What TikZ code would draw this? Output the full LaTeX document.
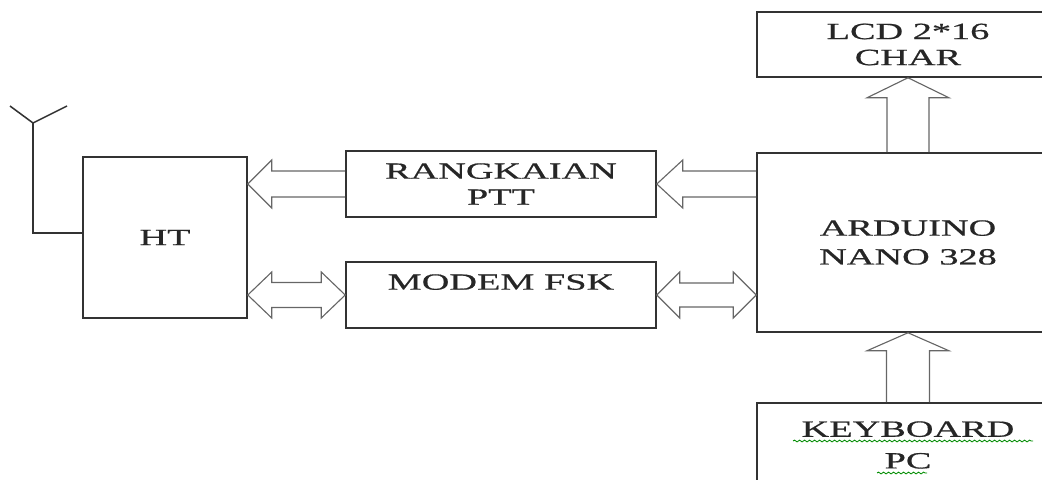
\documentclass[tikz,border=0pt]{standalone}
\usepackage{fontspec}
\newfontfamily\diagfont[FakeStretch=1.65, FakeBold=0.6]{Liberation Serif}
\usetikzlibrary{calc,decorations.pathmorphing}

\newlength\pxu
\setlength\pxu{0.025cm}

\tikzset{
  blok/.style={draw=black!80, line width=1.1pt, rectangle, align=center, inner sep=0pt,
    font=\diagfont\fontsize{16.5}{18.5}\selectfont, text=black!85},
  panah/.style={draw=black!60, line width=0.8pt, line join=miter},
  salah/.style={draw=green!55!black, line width=0.6pt,
    decorate, decoration={snake, amplitude=0.9\pxu, segment length=5\pxu}},
}

% hollow arrow: #1 start, #2 tip, #3 half shaft, #4 head length, #5 half head
\newcommand\panahsatu[5]{%
  \coordinate (hA) at ($(#2)!#4!(#1)$);
  \draw[panah] ($(#1)!#3!90:(#2)$) -- ($(hA)!#3!-90:(#1)$) -- ($(hA)!#5!-90:(#1)$)
    -- (#2) -- ($(hA)!#5!90:(#1)$) -- ($(hA)!#3!90:(#1)$) -- ($(#1)!#3!-90:(#2)$);
}
% hollow double arrow, same arguments
\newcommand\panahdua[5]{%
  \coordinate (hA) at ($(#2)!#4!(#1)$);
  \coordinate (hB) at ($(#1)!#4!(#2)$);
  \draw[panah] ($(hB)!#3!90:(#2)$) -- ($(hA)!#3!-90:(#1)$) -- ($(hA)!#5!-90:(#1)$)
    -- (#2) -- ($(hA)!#5!90:(#1)$) -- ($(hA)!#3!90:(#1)$) -- ($(hB)!#3!-90:(#2)$)
    -- ($(hB)!#5!-90:(#2)$) -- (#1) -- ($(hB)!#5!90:(#2)$) -- cycle;
}

\begin{document}
\begin{tikzpicture}[x=0.025cm, y=-0.025cm]

\useasboundingbox (0,0) rectangle (1042,480);
\clip (0,0) rectangle (1042,480);

\node[blok, minimum width=164\pxu, minimum height=161\pxu] (ht) at (165,237.5) {HT};
\node[blok, minimum width=310\pxu, minimum height=66\pxu] (ptt) at (501,184) {RANGKAIAN\\PTT};
\node[blok, minimum width=310\pxu, minimum height=66\pxu] (modem) at (501,295) {MODEM FSK\\\phantom{X}};
\node[blok, minimum width=302\pxu, minimum height=179\pxu] (arduino) at (908,242.5) {ARDUINO\\[2pt]NANO 328};
\node[blok, minimum width=302\pxu, minimum height=65\pxu] (lcd) at (908,44.5) {LCD 2*16\\CHAR};
\node[blok, minimum width=302\pxu, minimum height=84\pxu] (kbd) at (908,445) {KEYBOARD\\[4pt]PC};

% antenna
\coordinate (ant) at (33,123);
\draw[blok] ($(ht.west)+(0,-4.5)$) -| (ant);
\draw[blok] (10,106) -- (ant) -- (67,106);

\panahsatu{ptt.west}{ht.east |- ptt.west}{13\pxu}{24\pxu}{24\pxu}
\panahsatu{arduino.west |- ptt.east}{ptt.east}{13\pxu}{26\pxu}{24\pxu}
\panahdua{ht.east |- modem.west}{modem.west}{12.5\pxu}{24\pxu}{23\pxu}
\panahdua{modem.east}{arduino.west |- modem.east}{12\pxu}{23\pxu}{23\pxu}
\panahsatu{arduino.north}{lcd.south}{21\pxu}{20\pxu}{41\pxu}
\panahsatu{kbd.north}{arduino.south}{21.5\pxu}{18\pxu}{41\pxu}

% spell-check marks
\draw[salah] (793,441) -- (1033,441);
\draw[salah] (877,473) -- (927,473);

\end{tikzpicture}
\end{document}
